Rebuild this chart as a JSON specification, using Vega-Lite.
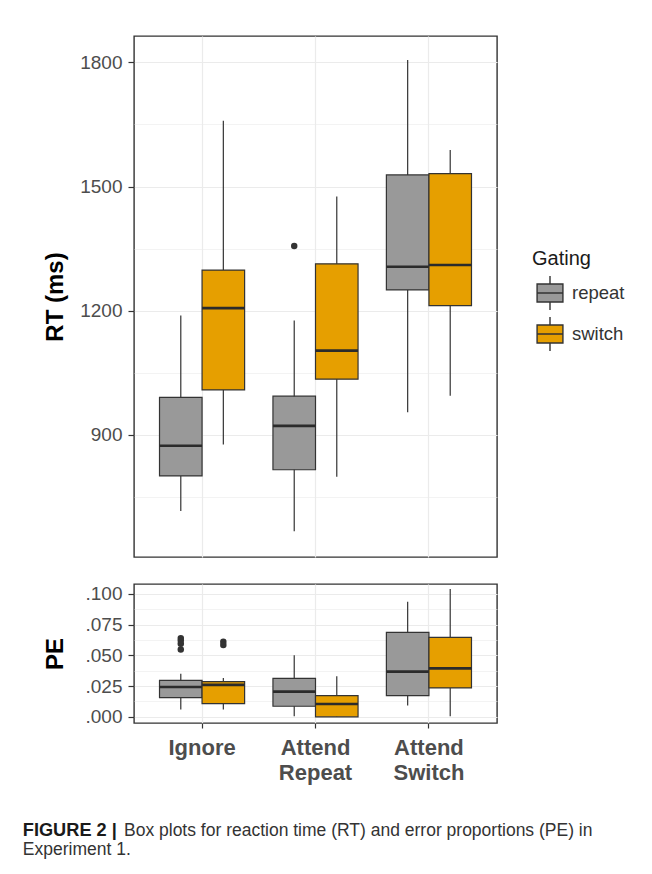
{
  "$schema": "https://vega.github.io/schema/vega-lite/v6.json",
  "padding": {"left": 22, "top": 35, "right": 5, "bottom": 5},
  "background": "#ffffff",
  "datasets": {
    "rt": [
      {"cond": "Ignore", "gating": "repeat", "lower": 715, "q1": 800, "median": 873, "q3": 990, "upper": 1188},
      {"cond": "Ignore", "gating": "switch", "lower": 876, "q1": 1008, "median": 1206, "q3": 1298, "upper": 1659},
      {"cond": "Attend Repeat", "gating": "repeat", "lower": 666, "q1": 815, "median": 921, "q3": 993, "upper": 1176},
      {"cond": "Attend Repeat", "gating": "switch", "lower": 798, "q1": 1034, "median": 1103, "q3": 1313, "upper": 1476},
      {"cond": "Attend Switch", "gating": "repeat", "lower": 954, "q1": 1250, "median": 1306, "q3": 1528, "upper": 1806},
      {"cond": "Attend Switch", "gating": "switch", "lower": 994, "q1": 1212, "median": 1310, "q3": 1531, "upper": 1588}
    ],
    "rtout": [
      {"cond": "Attend Repeat", "gating": "repeat", "value": 1356}
    ],
    "pe": [
      {"cond": "Ignore", "gating": "repeat", "lower": 0.006, "q1": 0.0157, "median": 0.0243, "q3": 0.0297, "upper": 0.035},
      {"cond": "Ignore", "gating": "switch", "lower": 0.006, "q1": 0.0108, "median": 0.026, "q3": 0.0287, "upper": 0.0316},
      {"cond": "Attend Repeat", "gating": "repeat", "lower": 0.0005, "q1": 0.0086, "median": 0.0205, "q3": 0.0313, "upper": 0.05},
      {"cond": "Attend Repeat", "gating": "switch", "lower": 0, "q1": 0, "median": 0.0105, "q3": 0.0173, "upper": 0.033},
      {"cond": "Attend Switch", "gating": "repeat", "lower": 0.0092, "q1": 0.0173, "median": 0.0368, "q3": 0.0687, "upper": 0.0936},
      {"cond": "Attend Switch", "gating": "switch", "lower": 0.0005, "q1": 0.0235, "median": 0.0394, "q3": 0.0646, "upper": 0.1039}
    ],
    "peout": [
      {"cond": "Ignore", "gating": "repeat", "value": 0.064},
      {"cond": "Ignore", "gating": "repeat", "value": 0.062},
      {"cond": "Ignore", "gating": "repeat", "value": 0.0595},
      {"cond": "Ignore", "gating": "repeat", "value": 0.0547},
      {"cond": "Ignore", "gating": "switch", "value": 0.0611},
      {"cond": "Ignore", "gating": "switch", "value": 0.0584}
    ]
  },
  "title": {
    "text": "FIGURE 2 |",
    "subtitle": "Experiment 1.",
    "orient": "bottom",
    "anchor": "start",
    "frame": "bounds",
    "dx": -20,
    "offset": -18,
    "fontSize": 18.2,
    "fontWeight": "bold",
    "color": "#1a1a1a",
    "subtitleFontSize": 17.5,
    "subtitleColor": "#333333",
    "subtitlePadding": 1,
    "font": "Liberation Sans",
    "subtitleFont": "Liberation Sans"
  },
  "vconcat": [
    {
      "width": 363,
      "height": 521,
      "data": {"name": "rt"},
      "encoding": {
        "x": {
          "field": "cond", "type": "nominal",
          "sort": ["Ignore", "Attend Repeat", "Attend Switch"],
          "scale": {"paddingInner": 0, "paddingOuter": 0.1},
          "axis": {"labels": false, "ticks": false, "title": null, "grid": true, "gridWidth": 1.2}
        },
        "xOffset": {
          "field": "gating", "type": "nominal",
          "scale": {"domain": ["repeat", "switch"], "paddingInner": 0, "paddingOuter": 0.333}
        }
      },
      "layer": [
        {
          "mark": {"type": "rule", "color": "#333333", "strokeWidth": 1.2},
          "encoding": {
            "y": {
              "field": "lower", "type": "quantitative",
              "scale": {"domain": [604, 1864], "nice": false, "zero": false},
              "axis": {
                "title": "RT (ms)",
                "values": [750, 900, 1050, 1200, 1350, 1500, 1650, 1800],
                "format": "d",
                "labelOverlap": false,
                "labelExpr": "datum.value % 300 == 0 ? datum.label : ''",
                "tickOpacity": {"condition": {"test": "datum.value % 300 != 0", "value": 0}, "value": 1},
                "gridWidth": {"condition": {"test": "datum.value % 300 != 0", "value": 0.6}, "value": 1.2},
                "titleX": -71.5,
                "titleBaseline": "alphabetic"
              }
            },
            "y2": {"field": "upper"}
          }
        },
        {
          "mark": {"type": "bar", "stroke": "#333333", "strokeWidth": 1.2},
          "encoding": {
            "y": {"field": "q1", "type": "quantitative"},
            "y2": {"field": "q3"},
            "color": {
              "field": "gating", "type": "nominal",
              "scale": {"domain": ["repeat", "switch"], "range": ["#999999", "#E69F00"]},
              "legend": {
                "title": "Gating",
                "orient": "none",
                "legendX": 398,
                "legendY": 213,
                "symbolType": "M-0.76,-0.53H0.76V0.53H-0.76Z M-0.76,0H0.76 M0,-0.53V-1 M0,0.53V1",
                "symbolSize": 1156,
                "symbolStrokeColor": "#333333",
                "symbolStrokeWidth": 1.4,
                "symbolOpacity": 1,
                "titleFontSize": 20,
                "titleFontWeight": "normal",
                "titleColor": "#1a1a1a",
                "titlePadding": 6,
                "labelFontSize": 18.5,
                "labelColor": "#333333",
                "labelOffset": 4,
                "rowPadding": 1
              }
            }
          }
        },
        {
          "mark": {"type": "tick", "orient": "horizontal", "color": "#2b2b2b", "thickness": 2.6, "size": 42.5, "opacity": 1},
          "encoding": {"y": {"field": "median", "type": "quantitative"}}
        },
        {
          "data": {"name": "rtout"},
          "mark": {"type": "point", "filled": true, "color": "#333333", "size": 42, "opacity": 1},
          "encoding": {"y": {"field": "value", "type": "quantitative"}}
        }
      ]
    },
    {
      "width": 363,
      "height": 139,
      "title": {
        "text": "Box plots for reaction time (RT) and error proportions (PE) in",
        "orient": "bottom",
        "anchor": "start",
        "frame": "group",
        "dx": -10,
        "offset": 39,
        "fontSize": 17.5,
        "fontWeight": "normal",
        "color": "#333333",
        "font": "Liberation Sans"
      },
      "data": {"name": "pe"},
      "encoding": {
        "x": {
          "field": "cond", "type": "nominal",
          "sort": ["Ignore", "Attend Repeat", "Attend Switch"],
          "scale": {"paddingInner": 0, "paddingOuter": 0.1},
          "axis": {
            "title": null, "grid": true, "gridWidth": 1.2,
            "labelExpr": "split(datum.label, ' ')",
            "labelFontSize": 22, "labelFontWeight": "bold", "labelColor": "#4d4d4d",
            "labelLineHeight": 25, "labelPadding": 9, "tickSize": 5, "labelAngle": 0
          }
        },
        "xOffset": {
          "field": "gating", "type": "nominal",
          "scale": {"domain": ["repeat", "switch"], "paddingInner": 0, "paddingOuter": 0.333}
        }
      },
      "layer": [
        {
          "mark": {"type": "rule", "color": "#333333", "strokeWidth": 1.2},
          "encoding": {
            "y": {
              "field": "lower", "type": "quantitative",
              "scale": {"domain": [-0.005, 0.108], "nice": false, "zero": false},
              "axis": {
                "title": "PE",
                "values": [0, 0.025, 0.05, 0.075, 0.1],
                "labelOverlap": false,
                "labelExpr": "substring(format(datum.value, '.3f'), 1)",
                "titleX": -71.5,
                "titleBaseline": "alphabetic"
              }
            },
            "y2": {"field": "upper"}
          }
        },
        {
          "mark": {"type": "bar", "stroke": "#333333", "strokeWidth": 1.2},
          "encoding": {
            "y": {
              "field": "q1", "type": "quantitative",
              "axis": {
                "title": null,
                "values": [0.0125, 0.0375, 0.0625, 0.0875],
                "labels": false,
                "ticks": false,
                "grid": true,
                "gridWidth": 0.6,
                "orient": "left"
              }
            },
            "y2": {"field": "q3"},
            "color": {
              "field": "gating", "type": "nominal",
              "scale": {"domain": ["repeat", "switch"], "range": ["#999999", "#E69F00"]},
              "legend": {
                "title": "Gating",
                "orient": "none",
                "legendX": 398,
                "legendY": 213,
                "symbolType": "M-0.76,-0.53H0.76V0.53H-0.76Z M-0.76,0H0.76 M0,-0.53V-1 M0,0.53V1",
                "symbolSize": 1156,
                "symbolStrokeColor": "#333333",
                "symbolStrokeWidth": 1.4,
                "symbolOpacity": 1,
                "titleFontSize": 20,
                "titleFontWeight": "normal",
                "titleColor": "#1a1a1a",
                "titlePadding": 6,
                "labelFontSize": 18.5,
                "labelColor": "#333333",
                "labelOffset": 4,
                "rowPadding": 1
              }
            }
          }
        },
        {
          "mark": {"type": "tick", "orient": "horizontal", "color": "#2b2b2b", "thickness": 2.6, "size": 42.5, "opacity": 1},
          "encoding": {"y": {"field": "median", "type": "quantitative", "axis": null}}
        },
        {
          "data": {"name": "peout"},
          "mark": {"type": "point", "filled": true, "color": "#333333", "size": 42, "opacity": 1},
          "encoding": {"y": {"field": "value", "type": "quantitative", "axis": null}}
        }
      ],
      "resolve": {"axis": {"y": "independent"}}
    }
  ],
  "spacing": 25,
  "config": {
    "font": "Liberation Sans",
    "view": {"stroke": "#333333", "strokeWidth": 1.4},
    "axis": {
      "domain": false,
      "gridColor": "#ebebeb",
      "tickColor": "#333333",
      "tickWidth": 1.2,
      "labelColor": "#4d4d4d",
      "labelFontSize": 19,
      "labelFont": "Liberation Sans",
      "titleColor": "#000000",
      "titleFontSize": 24,
      "titleFontWeight": "bold",
      "titleFont": "Liberation Sans"
    },
    "axisY": {"tickSize": 6, "labelPadding": 6, "labelOverlap": false},
    "legend": {"labelFont": "Liberation Sans", "titleFont": "Liberation Sans"}
  }
}
